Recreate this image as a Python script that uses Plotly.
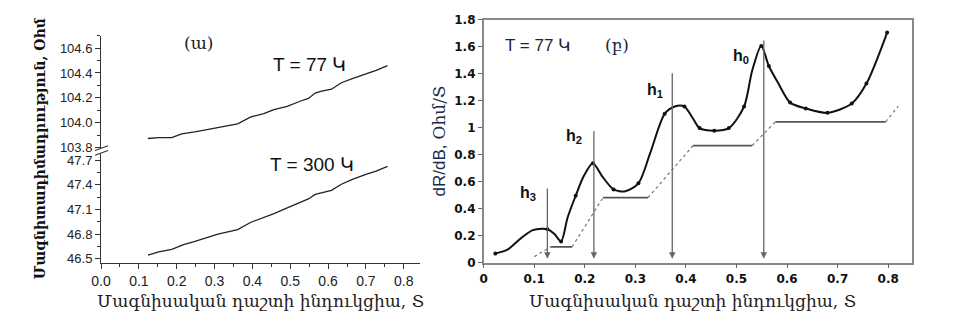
import plotly.graph_objects as go

W, H = 953, 323

# ---------------- data: panel (a) ----------------
b77 = [0.124, 0.152, 0.187, 0.213, 0.248, 0.283, 0.318, 0.361, 0.396, 0.430, 0.457,
       0.492, 0.526, 0.548, 0.566, 0.583, 0.609, 0.635, 0.666, 0.700, 0.727, 0.757]
r77 = [103.872, 103.879, 103.879, 103.910, 103.926, 103.944, 103.964, 103.990, 104.046,
       104.072, 104.105, 104.131, 104.172, 104.195, 104.238, 104.254, 104.269, 104.321,
       104.356, 104.392, 104.421, 104.459]
b300 = [0.124, 0.152, 0.187, 0.218, 0.248, 0.283, 0.309, 0.335, 0.361, 0.396, 0.430,
        0.457, 0.492, 0.526, 0.548, 0.566, 0.583, 0.609, 0.635, 0.666, 0.700, 0.727, 0.757]
r300 = [46.546, 46.585, 46.616, 46.674, 46.713, 46.763, 46.802, 46.829, 46.856, 46.945,
        47.003, 47.050, 47.120, 47.182, 47.228, 47.283, 47.306, 47.333, 47.407, 47.469,
        47.527, 47.566, 47.624]

# ---------------- data: panel (b) ----------------
curve_b = [0.023, 0.048, 0.074, 0.097, 0.115, 0.126, 0.140, 0.153, 0.166, 0.182, 0.198,
           0.216, 0.234, 0.257, 0.280, 0.306, 0.329, 0.358, 0.378, 0.397, 0.414, 0.427,
           0.456, 0.485, 0.515, 0.531, 0.549, 0.564, 0.583, 0.606, 0.637, 0.680, 0.728,
           0.757, 0.798]
curve_d = [0.068, 0.099, 0.182, 0.241, 0.252, 0.248, 0.213, 0.158, 0.335, 0.496, 0.642,
           0.737, 0.642, 0.543, 0.529, 0.588, 0.808, 1.103, 1.157, 1.157, 1.068, 0.997,
           0.978, 0.997, 1.157, 1.422, 1.606, 1.457, 1.327, 1.186, 1.143, 1.110, 1.179,
           1.327, 1.705]
dots_b = [0.023, 0.126, 0.153, 0.182, 0.216, 0.257, 0.306, 0.358, 0.397, 0.427, 0.456,
          0.485, 0.515, 0.549, 0.564, 0.606, 0.637, 0.680, 0.728, 0.757, 0.798]
dots_d = [0.068, 0.248, 0.158, 0.496, 0.737, 0.543, 0.588, 1.103, 1.157, 0.997, 0.978,
          0.997, 1.157, 1.606, 1.457, 1.186, 1.143, 1.110, 1.179, 1.327, 1.705]

# staircase: solid plateaus and dashed risers
step_x0 = [0.133, 0.236, 0.414, 0.577]
step_x1 = [0.175, 0.325, 0.531, 0.795]
step_y = [0.118, 0.482, 0.867, 1.044]
riser_x = [[0.100, 0.133], [0.175, 0.236], [0.325, 0.414], [0.531, 0.577], [0.795, 0.820]]
riser_y = [[0.045, 0.118], [0.118, 0.482], [0.482, 0.867], [0.867, 1.044], [1.044, 1.160]]

arrow_names = ["h<sub>3</sub>", "h<sub>2</sub>", "h<sub>1</sub>", "h<sub>0</sub>"]
arrow_x = [0.126, 0.218, 0.373, 0.554]
arrow_top = [0.56, 0.985, 1.415, 1.658]
arrow_tip = 0.03
label_x = [0.087, 0.179, 0.339, 0.508]
label_y = [0.512, 0.938, 1.278, 1.530]


def px(x):
    return x / W


def py(y):
    return 1 - y / H


fig = go.Figure()

# panel (a)
fig.add_trace(go.Scatter(x=b77, y=r77, mode="lines", line=dict(color="#222", width=1.3),
                         xaxis="x2", yaxis="y2", showlegend=False))
fig.add_trace(go.Scatter(x=b300, y=r300, mode="lines", line=dict(color="#222", width=1.3),
                         xaxis="x", yaxis="y", showlegend=False))

# panel (b) staircase
for xs, ys in zip(riser_x, riser_y):
    fig.add_trace(go.Scatter(x=xs, y=ys, mode="lines",
                             line=dict(color="#777", width=1.2, dash="3px,3px"),
                             xaxis="x3", yaxis="y3", showlegend=False))
for a, b, c in zip(step_x0, step_x1, step_y):
    fig.add_trace(go.Scatter(x=[a, b], y=[c, c], mode="lines",
                             line=dict(color="#555", width=1.8),
                             xaxis="x3", yaxis="y3", showlegend=False))

# arrows
for xa, yt in zip(arrow_x, arrow_top):
    fig.add_annotation(x=xa, y=arrow_tip, ax=xa, ay=yt, xref="x3", yref="y3",
                       axref="x3", ayref="y3", showarrow=True, arrowhead=2,
                       arrowsize=1, arrowwidth=1.3, arrowcolor="#666", text="")
for t, lx, ly in zip(arrow_names, label_x, label_y):
    fig.add_annotation(x=lx, y=ly, xref="x3", yref="y3", showarrow=False,
                       xanchor="center", yanchor="middle",
                       text="<b>" + t + "</b>",
                       font=dict(family="Liberation Sans", size=16, color="#111"))

# curve
fig.add_trace(go.Scatter(x=curve_b, y=curve_d, mode="lines",
                         line=dict(color="#111", width=2, shape="spline", smoothing=0.8),
                         xaxis="x3", yaxis="y3", showlegend=False))
fig.add_trace(go.Scatter(x=dots_b, y=dots_d, mode="markers",
                         marker=dict(color="#111", size=4),
                         xaxis="x3", yaxis="y3", showlegend=False))

tickf_a = dict(family="Liberation Sans", size=13, color="#222")
tickf_b = dict(family="DejaVu Sans", size=12, color="#111", weight="bold")

dom_a_x = [px(92), px(414)]
fig.update_layout(
    width=W, height=H,
    margin=dict(l=0, r=0, t=0, b=0),
    paper_bgcolor="white", plot_bgcolor="white",
    xaxis=dict(domain=dom_a_x, anchor="y", range=[0, 0.842], showline=True,
               linecolor="#333", linewidth=1, ticks="outside", ticklen=5,
               tickcolor="#333", dtick=0.1, tick0=0, tickformat=".1f",
               tickfont=dict(family="Liberation Sans", size=14, color="#222"),
               showgrid=False, zeroline=False,
               minor=dict(dtick=0.05, ticks="outside", ticklen=3, tickcolor="#333")),
    yaxis=dict(domain=[py(267.3), py(153.5)], anchor="x", range=[46.4535, 47.776],
               showline=True, linecolor="#333", linewidth=1, ticks="outside",
               ticklen=5, tickcolor="#333", dtick=0.3, tick0=46.5, tickformat=".1f",
               tickfont=tickf_a, showgrid=False, zeroline=False, ticklabelstandoff=0,
               minor=dict(dtick=0.15, ticks="outside", ticklen=3, tickcolor="#333")),
    xaxis2=dict(domain=dom_a_x, anchor="y2", range=[0, 0.842], visible=False),
    yaxis2=dict(domain=[py(148.5), py(30)], anchor="x2", range=[103.787, 104.70],
                showline=True, linecolor="#333", linewidth=1, ticks="outside",
                ticklen=5, tickcolor="#333", dtick=0.2, tick0=103.8, tickformat=".1f",
                tickfont=tickf_a, showgrid=False, zeroline=False, ticklabelstandoff=0,
                minor=dict(dtick=0.1, ticks="outside", ticklen=3, tickcolor="#333")),
    xaxis3=dict(domain=[px(478.7), px(912)], anchor="y3", range=[0, 0.848],
                showline=True, mirror=True, linecolor="#888", linewidth=1.5,
                ticks="outside", ticklen=4, tickcolor="#666", dtick=0.1, tick0=0,
                tickfont=tickf_b, showgrid=False, zeroline=False),
    yaxis3=dict(domain=[py(267.3), py(13.3)], anchor="x3", range=[0, 1.8],
                showline=True, mirror=True, linecolor="#888", linewidth=1.5,
                ticks="outside", ticklen=4, tickcolor="#666", dtick=0.2, tick0=0,
                tickfont=tickf_b, showgrid=False, zeroline=False),
)

# axis break marks (decoration)
for yb in (146, 151):
    fig.add_shape(type="line", xref="paper", yref="paper",
                  x0=px(86), y0=py(yb + 4), x1=px(99), y1=py(yb - 1),
                  line=dict(color="#333", width=1.2))
fig.add_shape(type="rect", xref="paper", yref="paper", x0=px(91), x1=px(94),
              y0=py(151.5), y1=py(148.5), fillcolor="white", line=dict(width=0))

serif = "DejaVu Serif"
ann = [
    dict(x=px(30), y=py(148), text="<b>Մագնիտադիմադրություն, Օհմ</b>", textangle=-90,
         font=dict(family=serif, size=14, color="#111")),
    dict(x=px(253), y=py(307), text="Մագնիսական դաշտի ինդուկցիա, Տ",
         font=dict(family=serif, size=17, color="#222")),
    dict(x=px(690), y=py(307), text="Մագնիսական դաշտի ինդուկցիա, Տ",
         font=dict(family=serif, size=17, color="#222")),
    dict(x=px(190), y=py(38), text="(ա)", font=dict(family=serif, size=17, color="#222")),
    dict(x=px(303), y=py(60), text="T = 77 Կ",
         font=dict(family="Liberation Sans", size=19, color="#111")),
    dict(x=px(305), y=py(165), text="T = 300 Կ",
         font=dict(family="Liberation Sans", size=19, color="#111")),
    dict(x=px(533), y=py(40), text="T = 77 Կ",
         font=dict(family="Liberation Sans", size=17, color="#1a2440")),
    dict(x=px(613), y=py(40), text="(բ)", font=dict(family=serif, size=17, color="#1a2440")),
    dict(x=px(433), y=py(140),
         text="dR/dB, <span style='font-family:DejaVu Serif'>Օհմ/Տ</span>",
         textangle=-90, font=dict(family="Liberation Sans", size=17, color="#1a2a4a")),
]
for a in ann:
    fig.add_annotation(xref="paper", yref="paper", showarrow=False,
                       xanchor="center", yanchor="middle", **a)

fig.write_html("out.html")
